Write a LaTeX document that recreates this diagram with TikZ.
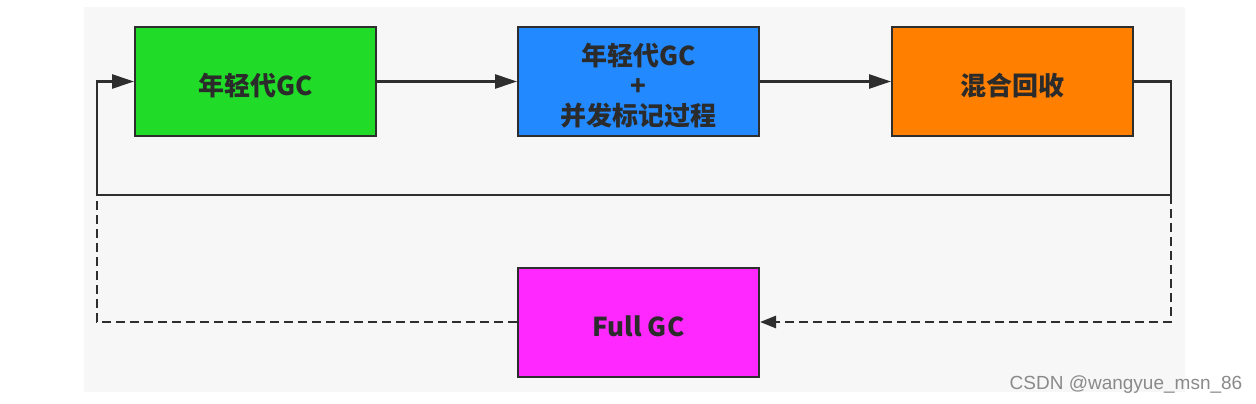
\documentclass[tikz,border=0pt]{standalone}
\usepackage{fontspec}
\setmainfont{Noto Sans CJK SC}
\newfontfamily\wmfont{Liberation Sans}
\usetikzlibrary{arrows.meta}
\definecolor{bg}{HTML}{F6F7F6}
\definecolor{edge}{HTML}{2E2E2E}
\definecolor{txt}{HTML}{2B2B2B}
\definecolor{cgreen}{HTML}{20DC28}
\definecolor{cblue}{HTML}{2389FF}
\definecolor{corange}{HTML}{FF7F00}
\definecolor{cmag}{HTML}{FF28FF}
\definecolor{wm}{HTML}{8A8A8A}
\begin{document}
\begin{tikzpicture}[x=1pt,y=-1pt,
  box/.style={draw=edge, line width=2pt, minimum width=241pt, minimum height=109pt,
    inner sep=0pt},
  boxtext/.style={font=\fontsize{26}{30}\selectfont\bfseries, text=txt, align=center, inner sep=0pt, yshift=-4pt},
  conn/.style={draw=edge, line width=2.6pt},
  tip/.style={-{Triangle[length=22pt,width=14pt]}},
  smalltip/.style={-{Triangle[length=16pt,width=12pt]}},
  dsh/.style={dash pattern=on 9pt off 5pt}]
\useasboundingbox (0,0) rectangle (1256,404);
\fill[white] (0,0) rectangle (1256,404);
\fill[bg] (84,7) rectangle (1185,392);
\node[box, fill=cgreen, label={[boxtext]center:年轻代GC}] (young) at (255.5,81.5) {};
\node[box, fill=cblue, label={[boxtext]center:年轻代GC\\+\\并发标记过程}] (mixmark) at (638.5,81.5) {};
\node[box, fill=corange, label={[boxtext]center:混合回收}] (mix) at (1012.5,81.5) {};
\node[box, fill=cmag, label={[boxtext]center:Full GC}] (full) at (638.5,322) {};
\coordinate (rc) at (1171,195);
\coordinate (lc) at (97,195);
\draw[conn, tip] (young.east) -- (mixmark.west);
\draw[conn, tip] (mixmark.east) -- (mix.west);
\draw[conn, tip] (mix.east) -| (rc) -- (lc) |- (young.west);
\draw[conn, dsh, smalltip] (rc) |- (full.east);
\draw[conn, dsh] (full.west) -| (lc);
\node[text=wm, font=\wmfont\fontsize{19}{22}\selectfont, inner sep=0pt] (mark) at (1126,385) {CSDN @wangyue\_msn\_86};
\end{tikzpicture}
\end{document}
